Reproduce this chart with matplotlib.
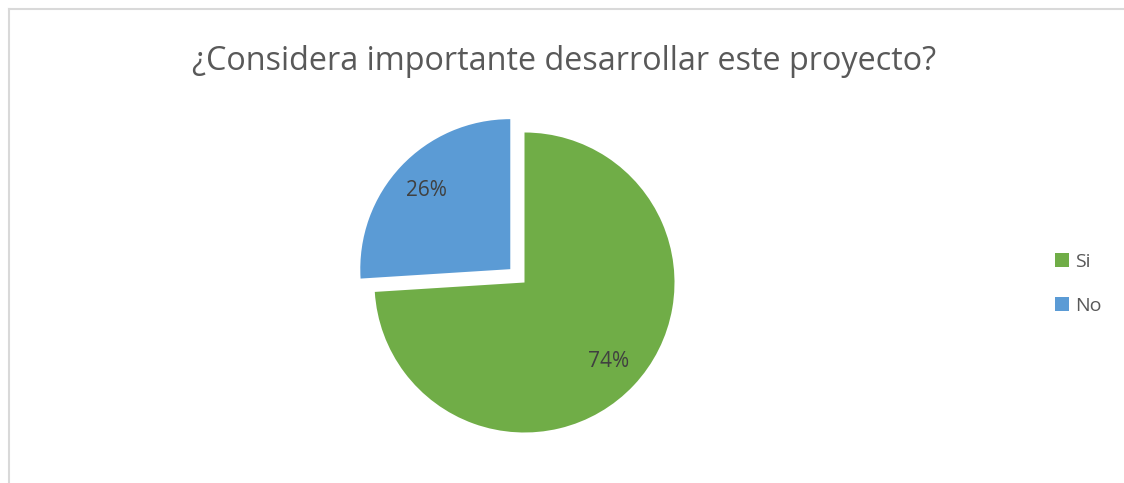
import matplotlib
matplotlib.use('Agg')
import matplotlib.pyplot as plt
from matplotlib.patches import Patch
from matplotlib.lines import Line2D

# Survey answers
labels = ['Si', 'No']
values = [74, 26]
colors = ['#70AD47', '#5B9BD5']
title = '¿Considera importante desarrollar este proyecto?'

plt.rcParams['font.family'] = ['Open Sans', 'DejaVu Sans']

W, H = 1124, 483
fig = plt.figure(figsize=(W / 100, H / 100), dpi=100)

# pie area: centre and radius in pixels
cx, cy, r = 524.5, 282.5, 150
side = 380
ax = fig.add_axes([(cx - side / 2) / W, (H - cy - side / 2) / H, side / W, side / H])
wedges, texts, autotexts = ax.pie(values, colors=colors, startangle=90, counterclock=False,
                                  explode=[0, 0.13], autopct='%1.0f%%', pctdistance=0.77,
                                  textprops={'color': '#404040', 'fontsize': 15})
lim = side / 2 / r
ax.set_xlim(-lim, lim)
ax.set_ylim(-lim, lim)
ax.set_aspect('equal')
ax.axis('off')

fig.text(564 / W, 1 - 62 / H, title, ha='center', va='center', fontsize=23.3, color='#595959')

# legend on the right
handles = [Patch(facecolor=c, edgecolor='none') for c in colors]
fig.legend(handles, labels, loc='center left', bbox_to_anchor=(1055 / W, 1 - 284 / H),
           frameon=False, fontsize=14, handlelength=0.72, handleheight=0.72,
           handletextpad=0.3, labelspacing=1.35, borderpad=0, borderaxespad=0,
           labelcolor='#595959')

# chart frame (left and top edges)
fig.add_artist(Line2D([8.5 / W, 8.5 / W], [0, 1 - 8.5 / H], color='#D9D9D9', lw=1.5))
fig.add_artist(Line2D([8.5 / W, 1], [1 - 8.5 / H, 1 - 8.5 / H], color='#D9D9D9', lw=1.5))

fig.savefig('out.png', dpi=100)
